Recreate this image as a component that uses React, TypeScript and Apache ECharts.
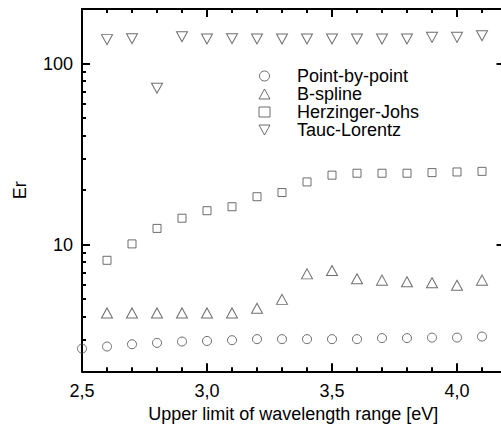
import React, { useEffect, useRef } from "react";
import * as echarts from "echarts";

const xPbp = [2.5, 2.6, 2.7, 2.8, 2.9, 3.0, 3.1, 3.2, 3.3, 3.4, 3.5, 3.6, 3.7, 3.8, 3.9, 4.0, 4.1];
const pointByPoint = [2.67, 2.74, 2.82, 2.87, 2.92, 2.94, 2.97, 3.01, 3.01, 3.01, 3.01, 3.01, 3.05, 3.05, 3.07, 3.07, 3.11];
const xModels = [2.6, 2.7, 2.8, 2.9, 3.0, 3.1, 3.2, 3.3, 3.4, 3.5, 3.6, 3.7, 3.8, 3.9, 4.0, 4.1];
const bSpline = [4.2, 4.2, 4.2, 4.2, 4.2, 4.2, 4.46, 4.99, 6.9, 7.2, 6.49, 6.37, 6.24, 6.16, 5.97, 6.37];
const herzingerJohs = [8.2, 10.1, 12.3, 14.0, 15.4, 16.2, 18.4, 19.4, 22.2, 24.2, 24.8, 24.8, 24.8, 25.0, 25.2, 25.4];
const taucLorentz = [135.5, 137.2, 73, 140.7, 136.7, 137.2, 136.7, 136.7, 136.7, 136.7, 136.7, 136.7, 136.7, 139.5, 139.5, 142.5];

const seriesNames = ["Point-by-point", "B-spline", "Herzinger-Johs", "Tauc-Lorentz"];
const legendIcons = ["circle", "triangle", "rect", "path://M0,0L11,0L5.5,10Z"];

const FONT = "'Liberation Sans', Arial, sans-serif";
const MARK = "#4a4a4a";
const TICK = "#000";

function pairs(xs: number[], ys: number[]) {
  return xs.map((x, i) => [x, ys[i]]);
}

export default function App() {
  const ref = useRef<HTMLDivElement>(null);
  useEffect(() => {
    if (!ref.current) return;
    const chart = echarts.init(ref.current, null, { renderer: "svg" });
    const axisLine = { show: true, lineStyle: { color: "#000", width: 2 } };
    const markStyle = { color: "rgba(255,255,255,0)", borderColor: MARK, borderWidth: 1 };
    const majorTick = { show: true, inside: true, length: 8, lineStyle: { color: TICK, width: 2 } };
    const xCommon = {
      type: "value" as const,
      min: 2.5,
      max: 4.19,
      interval: 0.5,
      axisLine,
      splitLine: { show: false },
      axisTick: majorTick,
      minorTick: { show: true, splitNumber: 5, length: 4, lineStyle: { color: TICK, width: 2 } },
    };
    const yCommon = {
      type: "log" as const,
      logBase: 10,
      min: 2,
      max: 200,
      axisLine,
      splitLine: { show: false },
      minorSplitLine: { show: false },
    };
    chart.setOption({
      animation: false,
      backgroundColor: "#fff",
      textStyle: { fontFamily: FONT },
      grid: { left: 82, right: 1.5, top: 9, bottom: 61.7 },
      legend: {
        orient: "vertical",
        left: 253.5,
        top: 62,
        itemWidth: 11,
        itemHeight: 10,
        itemGap: 0,
        data: seriesNames.map((name, i) => ({ name, icon: legendIcons[i] })),
        itemStyle: { color: "rgba(255,255,255,0)", borderColor: MARK, borderWidth: 1 },
        textStyle: {
          fontFamily: FONT,
          fontSize: 18,
          lineHeight: 18,
          color: "#000",
          padding: [0, 0, 0, 22],
        },
      },
      xAxis: [
        {
          ...xCommon,
          position: "bottom",
          name: "Upper limit of wavelength range [eV]",
          nameLocation: "middle",
          nameGap: 33,
          nameTextStyle: { fontFamily: FONT, fontSize: 18, color: "#000" },
          axisLabel: {
            show: true,
            fontFamily: FONT,
            fontSize: 18,
            color: "#000",
            margin: 11,
            showMaxLabel: false,
            formatter: (v: number) => v.toFixed(1).replace(".", ","),
          },
        },
        {
          ...xCommon,
          position: "top",
          axisLabel: { show: false },
        },
      ],
      yAxis: [
        {
          ...yCommon,
          position: "left",
          name: "Er",
          nameLocation: "middle",
          nameGap: 53,
          nameTextStyle: { fontFamily: FONT, fontSize: 18, color: "#000" },
          axisTick: majorTick,
          minorTick: { show: true, splitNumber: 9, length: 4, lineStyle: { color: TICK, width: 2 } },
          axisLabel: {
            show: true,
            fontFamily: FONT,
            fontSize: 18,
            color: "#000",
            margin: 9,
            showMinLabel: false,
            showMaxLabel: false,
          },
        },
        {
          ...yCommon,
          position: "right",
          axisTick: majorTick,
          axisLabel: { show: false },
        },
      ],
      series: [
        {
          name: seriesNames[0],
          type: "scatter",
          symbol: "circle",
          symbolSize: 9,
          itemStyle: markStyle,
          data: pairs(xPbp, pointByPoint),
        },
        {
          name: seriesNames[1],
          type: "scatter",
          symbol: "triangle",
          symbolSize: [11, 10],
          itemStyle: markStyle,
          data: pairs(xModels, bSpline),
        },
        {
          name: seriesNames[2],
          type: "scatter",
          symbol: "rect",
          symbolSize: 8,
          itemStyle: markStyle,
          data: pairs(xModels, herzingerJohs),
        },
        {
          name: seriesNames[3],
          type: "scatter",
          symbol: "triangle",
          symbolRotate: 180,
          symbolSize: [11, 10],
          itemStyle: markStyle,
          data: pairs(xModels, taucLorentz),
        },
      ],
    });
    return () => chart.dispose();
  }, []);
  return (
    <div style={{ position: "absolute", left: 0, top: 0, width: 501, height: 433, overflow: "hidden", background: "#fff" }}>
      <div ref={ref} style={{ width: 506, height: 433 }} />
    </div>
  );
}
